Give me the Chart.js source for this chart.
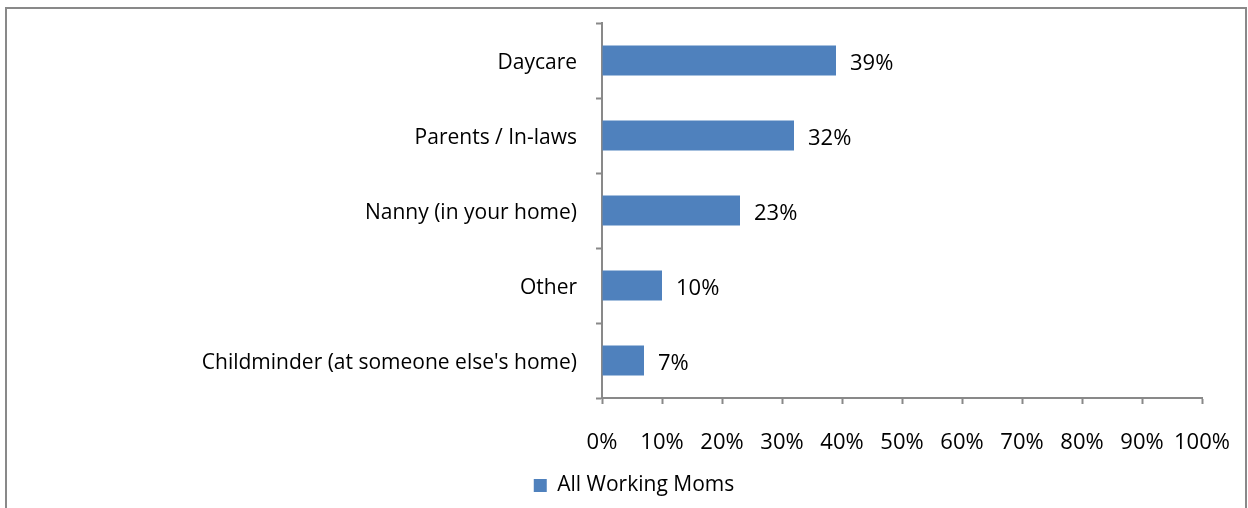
<!DOCTYPE html>
<html>
<head>
<meta charset="utf-8">
<script src="https://cdn.jsdelivr.net/npm/chart.js@4.4.1/dist/chart.umd.min.js"></script>
<style>
    html, body { margin: 0; padding: 0; background: #fff; }
    #frame {
        position: absolute; left: 5px; top: 7px; width: 1242px; height: 520px;
        border: 2px solid #898989; box-sizing: border-box;
    }
    #wrap { position: absolute; left: 0; top: 0; width: 1248px; height: 508px; }
</style>
</head>
<body>
<div id="frame"></div>
<div id="wrap"><canvas id="resultChart"></canvas></div>
<script>
const categories = ["Daycare", "Parents / In-laws", "Nanny (in your home)", "Other", "Childminder (at someone else's home)"];
const seriesName = "All Working Moms";
const values = [39, 32, 23, 10, 7];
const tickLabels = ["0%", "10%", "20%", "30%", "40%", "50%", "60%", "70%", "80%", "90%", "100%"];

const FONT = "'Open Sans', sans-serif";
const AXIS = "#898989";
const BAR = "#4f81bd";

// draws "39%" etc. just past the end of each bar
const valueLabels = {
    id: 'valueLabels',
    afterDatasetsDraw(chart) {
        const ctx = chart.ctx;
        ctx.save();
        ctx.font = "22px " + FONT;
        ctx.fillStyle = "#000";
        ctx.textBaseline = "middle";
        chart.getDatasetMeta(0).data.forEach((bar, i) => {
            ctx.fillText(values[i] + "%", bar.x + 14, bar.y + 3);
        });
        ctx.restore();
    }
};

// keep the plot box where we put it, no extra room for half labels
function noEdgePadding(scale) {
    scale.paddingTop = 0;
    scale.paddingBottom = 0;
    scale.paddingLeft = 0;
    scale.paddingRight = 0;
}

let chart = new Chart(document.getElementById("resultChart").getContext("2d"), {
    type: 'bar',
    data: {
        labels: categories,
        datasets: [{
            label: seriesName,
            data: values,
            backgroundColor: BAR,
            borderWidth: 0,
            barPercentage: 0.4,
            categoryPercentage: 1
        }]
    },
    options: {
        indexAxis: 'y',
        responsive: true,
        maintainAspectRatio: false,
        animation: false,
        layout: { padding: { top: 23, right: 46, left: 66, bottom: 2 } },
        scales: {
            x: {
                min: 0, max: 100,
                afterFit(scale) { noEdgePadding(scale); scale.height = 67; },
                ticks: {
                    stepSize: 10,
                    color: "#000",
                    font: { family: FONT, size: 22 },
                    padding: 26,
                    maxRotation: 0,
                    autoSkip: false,
                    callback: (v, i) => tickLabels[i]
                },
                grid: { drawOnChartArea: false, color: AXIS, tickLength: 6, tickWidth: 2 },
                border: { color: AXIS, width: 2 }
            },
            y: {
                afterFit(scale) { noEdgePadding(scale); scale.width = 536; },
                ticks: {
                    color: "#000",
                    font: { family: FONT, size: 21 },
                    padding: 19,
                    labelOffset: 3
                },
                grid: { drawOnChartArea: false, offset: true, color: AXIS, tickLength: 6, tickWidth: 2 },
                border: { color: AXIS, width: 2 }
            }
        },
        plugins: {
            legend: {
                position: 'bottom',
                labels: {
                    color: "#000",
                    font: { family: FONT, size: 21 },
                    boxWidth: 13,
                    boxHeight: 13,
                    padding: 10
                }
            },
            tooltip: { enabled: false }
        }
    },
    plugins: [valueLabels]
});
</script>
</body>
</html>
